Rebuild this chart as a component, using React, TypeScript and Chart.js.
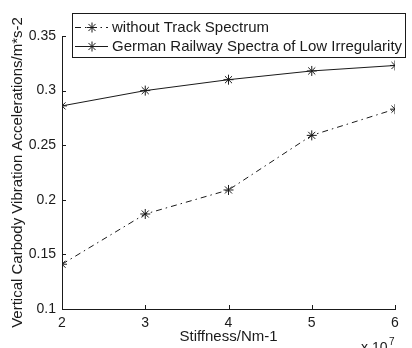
import React, { useEffect, useRef } from 'react';
import { Chart, registerables } from 'chart.js';
Chart.register(...registerables);

const stiffness = [2, 3, 4, 5, 6];
const withoutTrack = [0.141, 0.187, 0.209, 0.259, 0.283];
const germanRailway = [0.286, 0.3, 0.31, 0.318, 0.323];
const xTicks = [2, 3, 4, 5, 6];
const yTicks = [0.1, 0.15, 0.2, 0.25, 0.3, 0.35];
const seriesNames = ['without Track Spectrum', 'German Railway Spectra of Low Irregularity'];
const xTitle = 'Stiffness/Nm-1';
const yTitle = 'Vertical Carbody Vibration Accelerations/m*s-2';

const FONT = '"Liberation Sans", Arial, sans-serif';
const INK = '#1a1a1a';
const DASH_DOT = [6, 4, 1.5, 4];

function drawStar(ctx: CanvasRenderingContext2D, x: number, y: number, r: number) {
  ctx.beginPath();
  for (let i = 0; i < 4; i++) {
    const a = (i * Math.PI) / 4;
    ctx.moveTo(x - r * Math.cos(a), y - r * Math.sin(a));
    ctx.lineTo(x + r * Math.cos(a), y + r * Math.sin(a));
  }
  ctx.stroke();
}

const decorPlugin = {
  id: 'decor',
  afterDraw(chart: any) {
    const { ctx, chartArea, scales } = chart;
    const xs = scales.x;
    const ys = scales.y;
    ctx.save();
    ctx.strokeStyle = INK;
    ctx.lineWidth = 1;
    // inward ticks
    ctx.beginPath();
    xTicks.forEach((v) => {
      const px = Math.round(xs.getPixelForValue(v)) + 0.5;
      ctx.moveTo(px, chartArea.bottom);
      ctx.lineTo(px, chartArea.bottom - 4);
    });
    yTicks.forEach((v) => {
      const py = Math.round(ys.getPixelForValue(v)) + 0.5;
      ctx.moveTo(chartArea.left, py);
      ctx.lineTo(chartArea.left + 4, py);
    });
    ctx.stroke();

    // axis titles
    ctx.fillStyle = INK;
    ctx.font = `15px ${FONT}`;
    ctx.textAlign = 'center';
    ctx.textBaseline = 'middle';
    ctx.fillText(xTitle, (chartArea.left + chartArea.right) / 2, 337);
    ctx.save();
    ctx.translate(18, (chartArea.top + chartArea.bottom) / 2);
    ctx.rotate(-Math.PI / 2);
    ctx.fillText(yTitle, 0, 0);
    ctx.restore();

    // x 10^7
    ctx.textAlign = 'left';
    ctx.textBaseline = 'alphabetic';
    ctx.font = `14px ${FONT}`;
    ctx.fillText('x 10', 361, 352);
    ctx.font = `10px ${FONT}`;
    ctx.fillText('7', 389, 345);

    // legend
    const lx = 72, ly = 13, lw = 333, lh = 44;
    ctx.fillStyle = '#fff';
    ctx.fillRect(lx, ly, lw, lh);
    ctx.strokeStyle = INK;
    ctx.strokeRect(lx + 0.5, ly + 0.5, lw, lh);
    const rows = [27, 46];
    rows.forEach((ry, i) => {
      ctx.strokeStyle = INK;
      ctx.setLineDash(i === 0 ? DASH_DOT : []);
      ctx.beginPath();
      ctx.moveTo(75, ry + 0.5);
      ctx.lineTo(108, ry + 0.5);
      ctx.stroke();
      ctx.setLineDash([]);
      drawStar(ctx, 92, ry + 0.5, 5);
      ctx.fillStyle = INK;
      ctx.font = `15px ${FONT}`;
      ctx.textBaseline = 'middle';
      ctx.fillText(seriesNames[i], 112, ry + 1);
    });
    ctx.restore();
  },
};

export default function App() {
  const ref = useRef<HTMLCanvasElement>(null);
  useEffect(() => {
    document.body.style.margin = '0';
    const canvas = ref.current;
    if (!canvas) return;
    const chart = new Chart(canvas, {
      type: 'line',
      data: {
        datasets: [
          {
            label: seriesNames[0],
            data: stiffness.map((x, i) => ({ x, y: withoutTrack[i] })),
            borderColor: INK,
            borderWidth: 1,
            borderDash: DASH_DOT,
            pointStyle: 'star',
            pointRadius: 5,
            pointBorderColor: INK,
            pointBorderWidth: 1,
            fill: false,
            tension: 0,
          },
          {
            label: seriesNames[1],
            data: stiffness.map((x, i) => ({ x, y: germanRailway[i] })),
            borderColor: INK,
            borderWidth: 1,
            pointStyle: 'star',
            pointRadius: 5,
            pointBorderColor: INK,
            pointBorderWidth: 1,
            fill: false,
            tension: 0,
          },
        ],
      },
      options: {
        responsive: false,
        animation: false,
        layout: { padding: { left: 0, top: 36, right: 17, bottom: 0 } },
        plugins: { legend: { display: false }, tooltip: { enabled: false } },
        scales: {
          x: {
            type: 'linear',
            min: 2,
            max: 6,
            afterBuildTicks: (s: any) => {
              s.ticks = xTicks.map((v) => ({ value: v }));
            },
            afterFit: (s: any) => {
              s.height = 39;
            },
            grid: { display: false, drawTicks: false },
            border: { display: true, color: INK, width: 1 },
            ticks: { color: INK, font: { family: FONT, size: 14 }, padding: 6, maxRotation: 0 },
          },
          y: {
            type: 'linear',
            min: 0.1,
            max: 0.35,
            afterBuildTicks: (s: any) => {
              s.ticks = yTicks.map((v) => ({ value: v }));
            },
            afterFit: (s: any) => {
              s.width = 62;
            },
            grid: { display: false, drawTicks: false },
            border: { display: true, color: INK, width: 1 },
            ticks: {
              color: INK,
              font: { family: FONT, size: 14 },
              padding: 6,
              callback: (v: any) => String(Number(v.toFixed(2))),
            },
          },
        },
      },
      plugins: [decorPlugin],
    });
    return () => chart.destroy();
  }, []);
  return <canvas ref={ref} width={412} height={348} style={{ display: 'block' }} />;
}
